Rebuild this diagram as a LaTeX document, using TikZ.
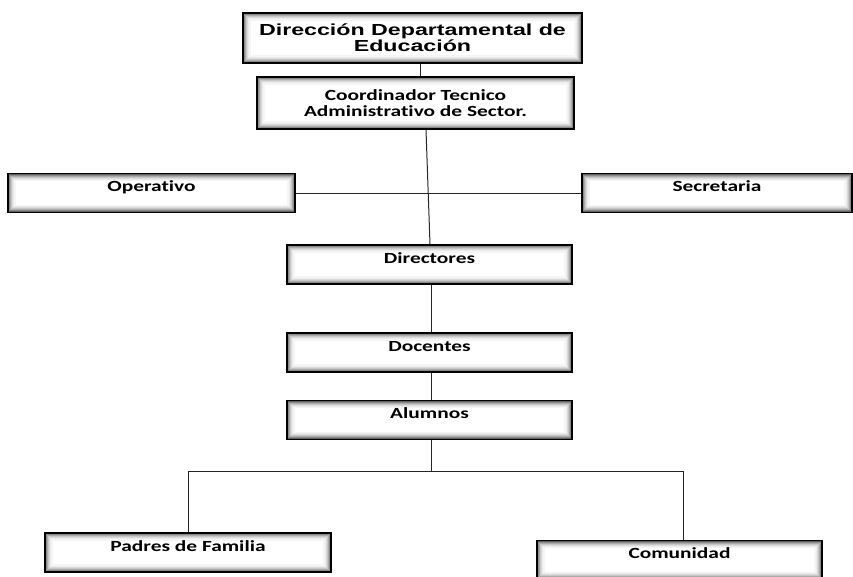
\documentclass[tikz,border=0pt]{standalone}
\usepackage{fontspec}
\newfontfamily\titlefont[FakeStretch=1.45]{Liberation Sans}
\newfontfamily\boxfont[FakeStretch=1.38,Ligatures=CommonOff]{Carlito}
\usetikzlibrary{calc}

\begin{document}
\begin{tikzpicture}[x=1pt,y=1pt]
      \tikzstyle{box}=[rectangle,draw=black,line width=1.3pt,fill=white,
        minimum width=285pt,text height=18pt,text depth=21pt,inner ysep=0pt,
        font=\boxfont\bfseries\fontsize{15.5}{16}\selectfont,
        path picture={
          \foreach \i/\c in {1/62,2/46,3/33,4/22,5/14,6/8,7/4}
            \draw[black!\c,line width=1.1pt]
              ([shift={(\i pt,\i pt)}]path picture bounding box.south west)
              rectangle
              ([shift={(-\i pt,-\i pt)}]path picture bounding box.north east);
        }]
      \tikzstyle{wide}=[box,text height=,text depth=,align=center,inner ysep=3pt]
      \tikzstyle{ln}=[line width=1pt,black!85]

      \useasboundingbox (0,0) rectangle (853,-576);

      \node[wide,minimum width=339pt,minimum height=50pt,
        font=\titlefont\bfseries\fontsize{16}{16}\selectfont]
        (DDE) at (412.5,-38) {Dirección Departamental de\\Educación};
      \node[wide,minimum width=317pt,minimum height=52pt]
        (CTA) at (415.5,-103) {Coordinador Tecnico\\Administrativo de Sector.};

      \node[box,minimum width=287pt] (OPE) at (151.5,-193) {Operativo};
      \node[box,minimum width=270pt] (SEC) at (717,-193)   {Secretaria};

      \node[box] (DIR) at (429.5,-264.5) {Directores};
      \node[box] (DOC) at (429.5,-352.5) {Docentes};
      \node[box] (ALU) at (429.5,-420)   {Alumnos};

      \node[box,minimum width=286pt] (PAD) at (188,-552.5) {Padres de Familia};
      \node[box] (COM) at (679.5,-560)   {Comunidad};

      \draw[ln] ([xshift=7.5pt]DDE.south) -- ([xshift=4.5pt]CTA.north);
      \draw[ln] ([xshift=10.5pt]CTA.south) -- ([xshift=0.5pt]DIR.north);
      \draw[ln] (OPE.east) -- (SEC.west);

      \draw[ln] ([xshift=1.5pt]DIR.south) -- ([xshift=1.5pt]DOC.north);
      \draw[ln] ([xshift=1.5pt]DOC.south) -- ([xshift=1.5pt]ALU.north);

      \draw[ln] ([xshift=1.5pt]ALU.south) -- ++(0,-31) coordinate (fork);
      \draw[ln] (PAD.north) |- (fork) -| ([xshift=3.5pt]COM.north);

    \end{tikzpicture}
\end{document}
